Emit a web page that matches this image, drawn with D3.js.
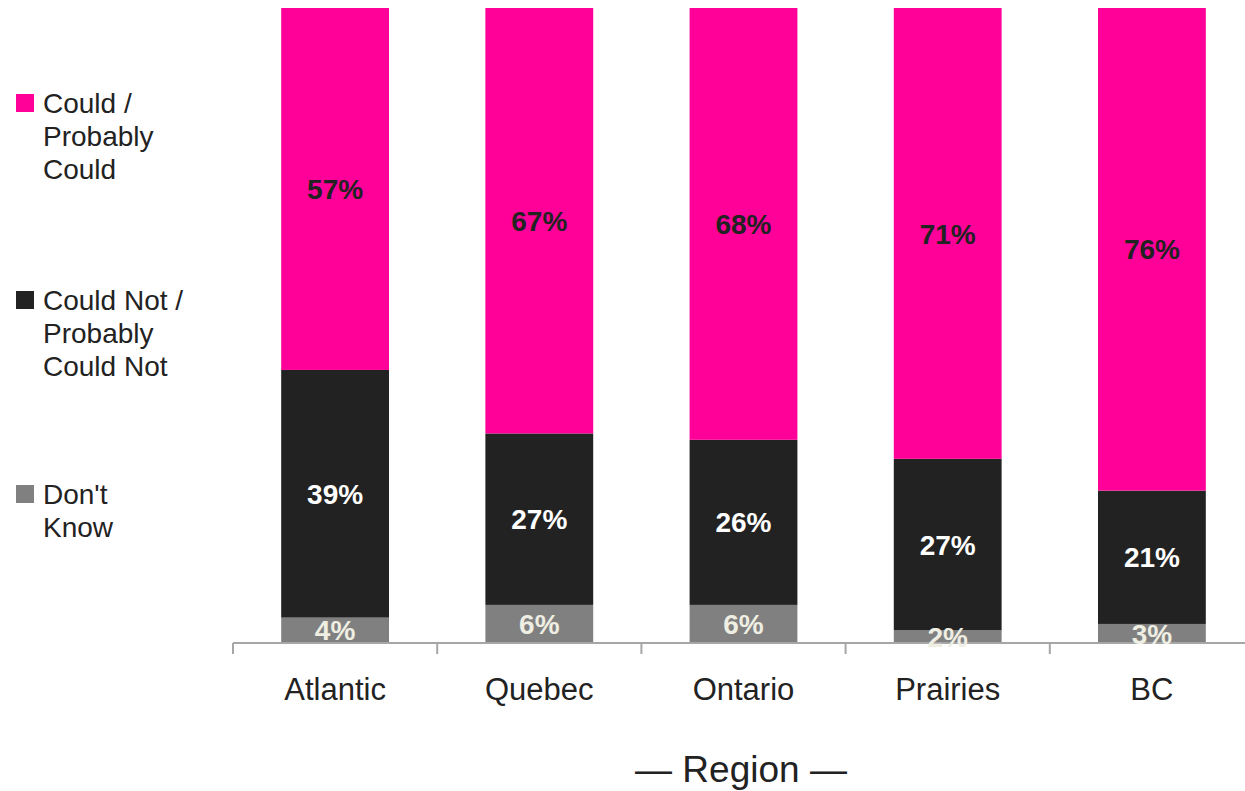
<!DOCTYPE html>
<html>
<head>
<meta charset="utf-8">
<script src="https://cdn.jsdelivr.net/npm/d3@7"></script>
<style>
  html, body { margin: 0; padding: 0; background: #fff; }
  svg { display: block; font-family: "Liberation Sans", Arial, sans-serif; }
</style>
</head>
<body>
<svg id="chart" width="1245" height="791"></svg>
<script>
// Regions along the x axis
const regions = ["Atlantic", "Quebec", "Ontario", "Prairies", "BC"];

// Share of respondents per answer (percent), stacked bottom to top
const dontKnow = [4, 6, 6, 2, 3];
const couldNot = [39, 27, 26, 27, 21];
const could    = [57, 67, 68, 71, 76];

const seriesNames = ["Don't Know", "Could Not / Probably Could Not", "Could / Probably Could"];
const legendLines = [["Could /", "Probably", "Could"], ["Could Not /", "Probably", "Could Not"], ["Don't", "Know"]];
const colors = ["#808080", "#222222", "#ff0099"];
const labelColors = ["#efeee2", "#ffffff", "#222222"];
const axisTitle = "— Region —";

const svg = d3.select("#chart");
const margin = { left: 233, right: -9, top: 8, bottom: 148 };
const W = 1245, H = 791;

const x = d3.scaleBand()
  .domain(regions)
  .range([margin.left, W - margin.right])
  .paddingInner(0.472)
  .paddingOuter(0.236);

const y = d3.scaleLinear().domain([0, 100]).range([H - margin.bottom, margin.top]);

const rows = regions.map((r, i) => ({
  region: r,
  [seriesNames[0]]: dontKnow[i],
  [seriesNames[1]]: couldNot[i],
  [seriesNames[2]]: could[i]
}));

const stacked = d3.stack().keys(seriesNames)(rows);

const groups = svg.append("g").selectAll("g")
  .data(stacked)
  .join("g")
  .attr("fill", (d, i) => colors[i]);

groups.selectAll("rect")
  .data(d => d)
  .join("rect")
  .attr("x", d => x(d.data.region))
  .attr("width", x.bandwidth())
  .attr("y", d => y(d[1]))
  .attr("height", d => y(d[0]) - y(d[1]));

// Axis: line with ticks at category boundaries
const axisY = y(0);
const axisG = svg.append("g");
const step = x.step();
const boundaries = d3.range(regions.length + 1).map(i => margin.left + i * step);
axisG.append("line")
  .attr("x1", boundaries[0]).attr("x2", boundaries[boundaries.length - 1])
  .attr("y1", axisY).attr("y2", axisY)
  .attr("stroke", "#a6a6a6").attr("stroke-width", 2);
axisG.selectAll("line.tick")
  .data(boundaries)
  .join("line")
  .attr("class", "tick")
  .attr("x1", d => d).attr("x2", d => d)
  .attr("y1", axisY).attr("y2", axisY + 11)
  .attr("stroke", "#a6a6a6").attr("stroke-width", 2);

// Segment value labels
stacked.forEach((s, si) => {
  svg.append("g").selectAll("text")
    .data(s)
    .join("text")
    .attr("x", d => x(d.data.region) + x.bandwidth() / 2)
    .attr("y", d => (y(d[0]) + y(d[1])) / 2)
    .attr("dy", "0.36em")
    .attr("text-anchor", "middle")
    .attr("font-size", 28)
    .attr("font-weight", "bold")
    .attr("fill", labelColors[si])
    .text(d => (d[1] - d[0]) + "%");
});

// Category labels
svg.append("g").selectAll("text")
  .data(regions)
  .join("text")
  .attr("x", d => x(d) + x.bandwidth() / 2)
  .attr("y", 689)
  .attr("dy", "0.36em")
  .attr("text-anchor", "middle")
  .attr("font-size", 31)
  .attr("fill", "#222")
  .text(d => d);

// Axis title
svg.append("text")
  .attr("x", 741)
  .attr("y", 769)
  .attr("dy", "0.36em")
  .attr("text-anchor", "middle")
  .attr("font-size", 37)
  .attr("fill", "#222")
  .text(axisTitle);

// Legend, top series first
const legendTops = [103, 300, 494];
const legendOrder = [2, 1, 0];
legendOrder.forEach((si, k) => {
  const g = svg.append("g");
  const ty = legendTops[k];
  g.append("rect")
    .attr("x", 16).attr("y", ty - 9)
    .attr("width", 18).attr("height", 18)
    .attr("fill", colors[si]);
  g.selectAll("text")
    .data(legendLines[k])
    .join("text")
    .attr("x", 43)
    .attr("y", (d, j) => ty + j * 33)
    .attr("dy", "0.36em")
    .attr("font-size", 28)
    .attr("fill", "#222")
    .text(d => d);
});
</script>
</body>
</html>
